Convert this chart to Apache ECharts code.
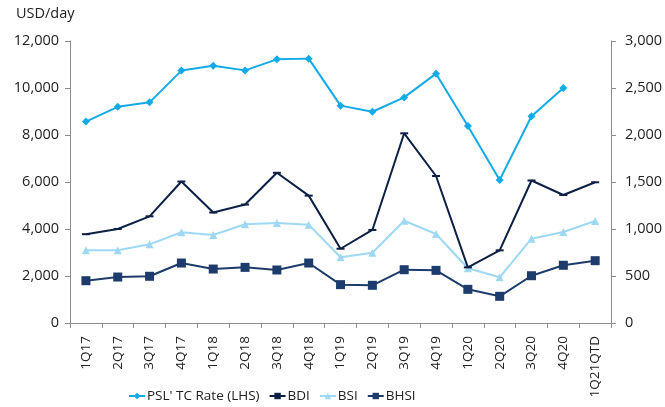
<!DOCTYPE html>
<html>
<head>
<meta charset="utf-8">
<script src="https://cdn.jsdelivr.net/npm/echarts@6/dist/echarts.min.js"></script>
<style>
  html, body { margin: 0; padding: 0; background: #fff; }
  #chart { width: 665px; height: 407px; }
</style>
</head>
<body>
<div id="chart"></div>
<script>
// quarters on the x axis
const quarters = ["1Q17", "2Q17", "3Q17", "4Q17", "1Q18", "2Q18", "3Q18", "4Q18",
  "1Q19", "2Q19", "3Q19", "4Q19", "1Q20", "2Q20", "3Q20", "4Q20", "1Q21QTD"];

// left axis, USD/day
const pslRate = [8570, 9200, 9390, 10740, 10950, 10750, 11220, 11250,
  9250, 8990, 9600, 10610, 8380, 6090, 8800, 10000, null];

// right axis indices
const bdi = [945, 1000, 1135, 1505, 1175, 1260, 1598, 1355,
  790, 990, 2018, 1564, 592, 773, 1516, 1362, 1497];
const bsi = [773, 773, 837, 965, 936, 1050, 1064, 1046,
  699, 748, 1088, 947, 582, 486, 897, 968, 1085];
const bhsi = [450, 489, 497, 638, 574, 592, 564, 638,
  408, 401, 567, 560, 358, 284, 503, 614, 663];

const leftTicks = [0, 12000, 2000];
const rightTicks = [0, 3000, 500];

const textFont = "Open Sans";
const axisGrey = "#8c8c8c";

const chart = echarts.init(document.getElementById("chart"));

const valueAxis = (ticks, pos, margin) => ({
  type: "value",
  position: pos,
  min: ticks[0],
  max: ticks[1],
  interval: ticks[2],
  axisLine: { show: true, lineStyle: { color: axisGrey, width: 1 } },
  axisTick: { show: true, length: 5, lineStyle: { color: axisGrey } },
  splitLine: { show: false },
  axisLabel: {
    color: "#222",
    fontSize: 14.5,
    fontFamily: textFont,
    margin: margin,
    formatter: (v) => v.toLocaleString("en-US"),
  },
});

chart.setOption({
  animation: false,
  title: {
    text: "USD/day",
    left: 16,
    top: 6,
    padding: 0,
    textStyle: { color: "#222", fontSize: 14.5, fontWeight: "normal", fontFamily: textFont },
  },
  grid: { left: 70, right: 52, top: 41, bottom: 84, containLabel: false },
  legend: {
    top: 389,
    left: 128,
    padding: 0,
    itemWidth: 16,
    itemHeight: 8,
    itemGap: 9,
    textStyle: { color: "#222", fontSize: 13.5, fontFamily: textFont, padding: [0, 0, 0, -3] },
    data: ["PSL' TC Rate (LHS)", "BDI", "BSI", "BHSI"],
  },
  xAxis: {
    type: "category",
    data: quarters,
    boundaryGap: true,
    axisLine: { lineStyle: { color: axisGrey } },
    axisTick: { show: true, length: 5, alignWithLabel: false, lineStyle: { color: axisGrey } },
    axisLabel: {
      rotate: 90,
      color: "#222",
      fontSize: 13.5,
      fontFamily: textFont,
      margin: 13,
      interval: 0,
    },
  },
  yAxis: [valueAxis(leftTicks, "left", 11), valueAxis(rightTicks, "right", 14)],
  series: [
    {
      name: "PSL' TC Rate (LHS)",
      type: "line",
      yAxisIndex: 0,
      data: pslRate,
      symbol: "diamond",
      symbolSize: 8,
      itemStyle: { color: "#12abe8" },
      lineStyle: { width: 2, color: "#12abe8" },
      z: 4,
    },
    {
      name: "BDI",
      type: "line",
      yAxisIndex: 1,
      data: bdi,
      symbol: "rect",
      symbolSize: [8, 2],
      itemStyle: { color: "#0c1f44" },
      lineStyle: { width: 2, color: "#0c1f44" },
      z: 3,
    },
    {
      name: "BSI",
      type: "line",
      yAxisIndex: 1,
      data: bsi,
      symbol: "triangle",
      symbolSize: 8,
      itemStyle: { color: "#9fd8f3" },
      lineStyle: { width: 2, color: "#9fd8f3" },
      z: 2,
    },
    {
      name: "BHSI",
      type: "line",
      yAxisIndex: 1,
      data: bhsi,
      symbol: "rect",
      symbolSize: 9,
      itemStyle: { color: "#1d3b6b" },
      lineStyle: { width: 2, color: "#1d3b6b" },
      z: 2,
    },
  ],
});
</script>
</body>
</html>
